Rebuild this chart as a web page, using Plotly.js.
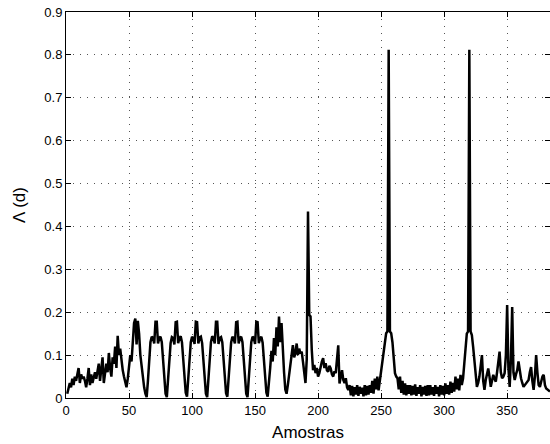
<!DOCTYPE html>
<html>
<head>
<meta charset="utf-8">
<script src="https://cdn.plot.ly/plotly-3.0.1.min.js"></script>
<style>html,body{margin:0;padding:0;background:#fff;}#chart{width:550px;height:444px;}</style>
</head>
<body>
<div id="chart"></div>
<script>
// Lambda(d) values, samples 1..384 in blocks of 16
var s01 = [0.01,0.02,0.035,0.025,0.045,0.03,0.05,0.04,0.055,0.07,0.035,0.055,0.045,0.05,0.04,0.025];
var s02 = [0.045,0.07,0.03,0.055,0.035,0.05,0.06,0.045,0.065,0.08,0.04,0.07,0.095,0.035,0.06,0.08];
var s03 = [0.06,0.105,0.07,0.05,0.095,0.08,0.12,0.07,0.145,0.1,0.115,0.08,0.065,0.05,0.035,0.025];
var s04 = [0.045,0.07,0.1,0.085,0.12,0.175,0.185,0.125,0.18,0.15,0.1,0.07,0.05,0.025,0.01,0.002];
var s05 = [0.04,0.09,0.13,0.143,0.14,0.127,0.178,0.178,0.127,0.14,0.143,0.13,0.09,0.04,0.01,0.002];
var s06 = [0.042,0.09,0.128,0.142,0.14,0.125,0.177,0.178,0.128,0.14,0.144,0.13,0.088,0.04,0.012,0.003];
var s07 = [0.04,0.092,0.13,0.143,0.138,0.126,0.178,0.177,0.127,0.141,0.143,0.128,0.09,0.041,0.01,0.002];
var s08 = [0.041,0.09,0.13,0.144,0.14,0.127,0.178,0.178,0.126,0.14,0.142,0.13,0.09,0.04,0.011,0.003];
var s09 = [0.04,0.089,0.129,0.143,0.139,0.127,0.177,0.178,0.127,0.14,0.143,0.13,0.091,0.04,0.01,0.002];
var s10 = [0.042,0.09,0.13,0.143,0.14,0.126,0.178,0.177,0.128,0.139,0.143,0.129,0.09,0.04,0.012,0.003];
var s11 = [0.03,0.07,0.11,0.085,0.14,0.1,0.165,0.12,0.19,0.13,0.175,0.1,0.06,0.02,0.01,0.03];
var s12 = [0.05,0.08,0.1,0.123,0.095,0.104,0.127,0.1,0.115,0.104,0.108,0.085,0.058,0.035,0.09,0.435];
var s13 = [0.194,0.19,0.112,0.065,0.077,0.058,0.07,0.05,0.058,0.075,0.085,0.093,0.07,0.081,0.065,0.061];
var s14 = [0.075,0.069,0.055,0.05,0.062,0.058,0.09,0.123,0.034,0.05,0.065,0.042,0.035,0.046,0.025,0.019];
var s15 = [0.03,0.006,0.028,0.004,0.025,0.008,0.03,0.005,0.026,0.01,0.024,0.004,0.03,0.006,0.028,0.008];
var s16 = [0.03,0.012,0.04,0.01,0.045,0.02,0.05,0.018,0.04,0.065,0.09,0.112,0.14,0.151,0.155,0.812];
var s17 = [0.155,0.151,0.13,0.097,0.058,0.05,0.046,0.02,0.05,0.012,0.04,0.008,0.034,0.006,0.03,0.01];
var s18 = [0.03,0.006,0.028,0.008,0.032,0.005,0.025,0.01,0.03,0.004,0.026,0.008,0.028,0.005,0.03,0.006];
var s19 = [0.03,0.008,0.025,0.005,0.03,0.01,0.026,0.004,0.03,0.008,0.028,0.006,0.034,0.01,0.03,0.008];
var s20 = [0.038,0.012,0.035,0.015,0.05,0.02,0.045,0.018,0.054,0.03,0.045,0.08,0.11,0.15,0.155,0.812];
var s21 = [0.155,0.147,0.12,0.089,0.05,0.026,0.035,0.05,0.075,0.1,0.04,0.019,0.042,0.06,0.069,0.05];
var s22 = [0.026,0.04,0.054,0.045,0.038,0.06,0.085,0.108,0.06,0.046,0.05,0.058,0.1,0.217,0.07,0.026];
var s23 = [0.09,0.212,0.06,0.042,0.055,0.065,0.085,0.06,0.046,0.035,0.026,0.03,0.034,0.04,0.042,0.06];
var s24 = [0.072,0.04,0.019,0.05,0.1,0.06,0.03,0.026,0.042,0.05,0.054,0.03,0.022,0.02,0.019,0.015];

var lambdaValues = [].concat(s01,s02,s03,s04,s05,s06,s07,s08,s09,s10,s11,s12,
                             s13,s14,s15,s16,s17,s18,s19,s20,s21,s22,s23,s24);
var samples = lambdaValues.map(function(v, i){ return i + 1; });

var xTicks = [0,50,100,150,200,250,300,350];
var yTicks = [0,0.1,0.2,0.3,0.4,0.5,0.6,0.7,0.8,0.9];
var yTickText = ['0','0.1','0.2','0.3','0.4','0.5','0.6','0.7','0.8','0.9'];

var trace = {
  x: samples, y: lambdaValues, type: 'scatter', mode: 'lines',
  line: {color: '#000', width: 2.5}, hoverinfo: 'skip'
};

var font = {family: 'Liberation Sans, Arial, Helvetica, sans-serif', color: '#000'};
var axisCommon = {
  showline: true, linecolor: '#000', linewidth: 1, mirror: 'ticks',
  ticks: 'inside', ticklen: 5, tickcolor: '#000', tickwidth: 1,
  showgrid: true, gridcolor: '#555', gridwidth: 1, griddash: '1px,6px',
  zeroline: false, tickfont: {family: font.family, size: 13, color: '#000'}
};

var layout = {
  width: 550, height: 444,
  margin: {l: 66, r: 0, t: 12, b: 46},
  paper_bgcolor: '#fff', plot_bgcolor: '#fff',
  showlegend: false,
  xaxis: Object.assign({}, axisCommon, {
    range: [0, 384], tickmode: 'array', tickvals: xTicks,
    title: {text: 'Amostras', font: {family: font.family, size: 17, color: '#000'}, standoff: 9}
  }),
  yaxis: Object.assign({}, axisCommon, {
    range: [0, 0.9], tickmode: 'array', tickvals: yTicks, ticktext: yTickText,
    title: {text: 'Λ (d)', font: {family: font.family, size: 17, color: '#000'}, standoff: 14}
  })
};

Plotly.newPlot('chart', [trace], layout, {staticPlot: true, displayModeBar: false});
</script>
</body>
</html>
